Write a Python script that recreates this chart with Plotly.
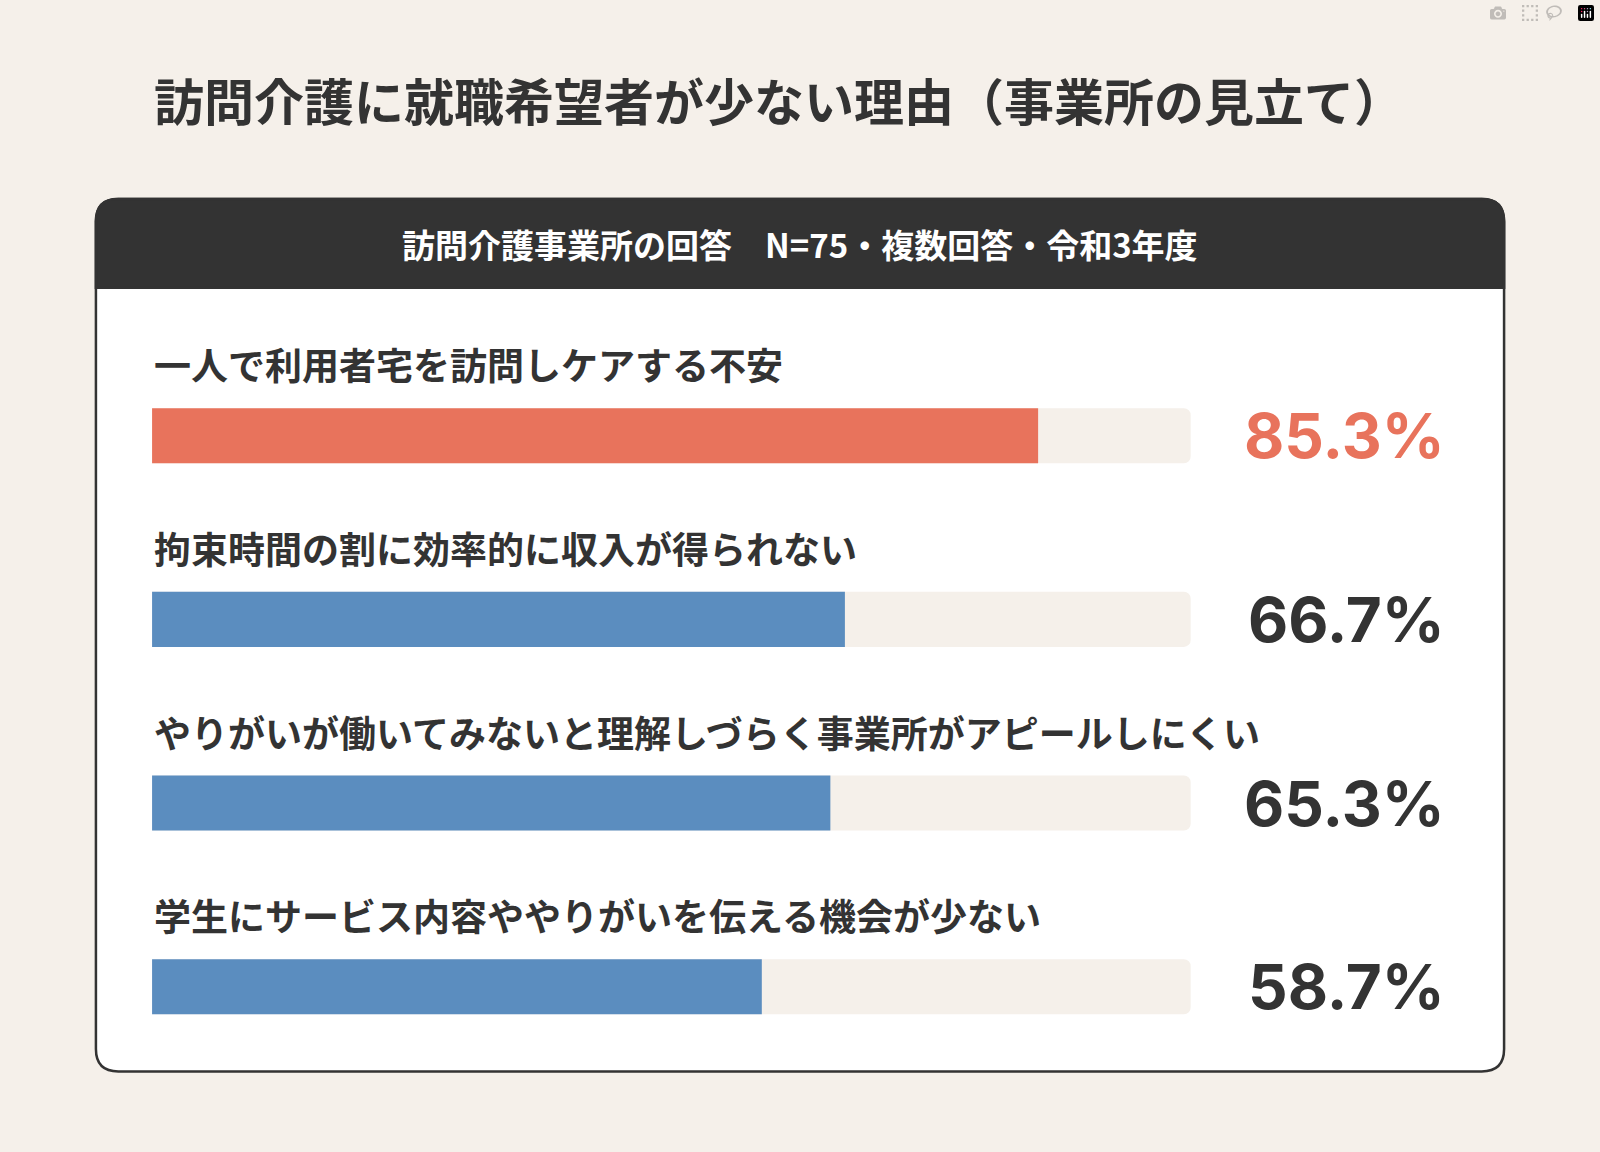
import plotly.graph_objects as go

W, H = 1568.0, 1129.0  # reference pixel grid used for placement

labels = [
    "一人で利用者宅を訪問しケアする不安",
    "拘束時間の割に効率的に収入が得られない",
    "やりがいが働いてみないと理解しづらく事業所がアピールしにくい",
    "学生にサービス内容ややりがいを伝える機会が少ない",
]
values = [85.3, 66.7, 65.3, 58.7]
bar_colors = ["#e8735c", "#5b8dbf", "#5b8dbf", "#5b8dbf"]
value_colors = ["#e8735c", "#333333", "#333333", "#333333"]
title = "訪問介護に就職希望者が少ない理由（事業所の見立て）"
header = "訪問介護事業所の回答　N=75・複数回答・令和3年度"

FONT = "Noto Sans CJK JP"


def px(x):
    return x / W


def py(y):
    return 1 - y / H


def rrect(x0, y0, x1, y1, r, top_only=False):
    rx, ry = r / W, r / H
    X0, X1, Y0, Y1 = px(x0), px(x1), py(y0), py(y1)
    if top_only:
        p = f"M{X0},{Y1} "
    else:
        p = f"M{X0},{Y1 + ry} "
    p += f"L{X0},{Y0 - ry} Q{X0},{Y0} {X0 + rx},{Y0} L{X1 - rx},{Y0} Q{X1},{Y0} {X1},{Y0 - ry} "
    if top_only:
        p += f"L{X1},{Y1} Z"
    else:
        p += f"L{X1},{Y1 + ry} Q{X1},{Y1} {X1 - rx},{Y1} L{X0 + rx},{Y1} Q{X0},{Y1} {X0},{Y1 + ry} Z"
    return p


pos = list(range(len(values)))
fig = go.Figure()
fig.add_trace(go.Bar(x=[100] * len(values), y=pos, orientation="h", width=0.3,
                     marker=dict(color="#f5f0ea", line_width=0), hoverinfo="skip"))
fig.add_trace(go.Bar(x=values, y=pos, orientation="h", width=0.3,
                     marker=dict(color=bar_colors, line_width=0)))

shapes = [
    dict(type="path", xref="paper", yref="paper", path=rrect(94, 195, 1474, 1050, 22),
         fillcolor="white", line=dict(color="#333333", width=2.5), layer="below"),
    dict(type="path", xref="paper", yref="paper", path=rrect(94, 195, 1474, 282, 22, True),
         fillcolor="#333333", line=dict(color="#333333", width=2.5), layer="below"),
]

ann = [
    dict(text=f"<b>{title}</b>", x=px(149), y=py(97), xref="paper", yref="paper",
         xanchor="left", yanchor="middle", showarrow=False,
         font=dict(size=50, color="#333333", family=FONT)),
    dict(text=f"<b>{header}</b>", x=px(784), y=py(239), xref="paper", yref="paper",
         xanchor="center", yanchor="middle", showarrow=False,
         font=dict(size=33, color="white", family=FONT)),
]
for i, (lab, v, c) in enumerate(zip(labels, values, value_colors)):
    cy = 427 + 180 * i
    ann.append(dict(text=f"<b>{lab}</b>", x=px(149), y=py(cy - 70), xref="paper", yref="paper",
                    xanchor="left", yanchor="middle", showarrow=False,
                    font=dict(size=37, color="#333333", family=FONT)))
    ann.append(dict(text=f"<b>{v:.1f}%</b>", x=px(1418), y=py(cy), xref="paper", yref="paper",
                    xanchor="right", yanchor="middle", showarrow=False,
                    font=dict(size=62, color=c, family="Inter", weight=900)))

fig.update_layout(
    width=1600, height=1152, margin=dict(l=0, r=0, t=0, b=0),
    paper_bgcolor="#f5f0ea", plot_bgcolor="rgba(0,0,0,0)",
    barmode="overlay", barcornerradius=7, showlegend=False,
    shapes=shapes, annotations=ann,
    xaxis=dict(domain=[px(149), px(1167)], range=[0, 100], visible=False, fixedrange=True),
    yaxis=dict(domain=[py(1057), py(337)], range=[3.5, -0.5], visible=False, fixedrange=True),
)
fig.write_html("out.html", post_script="document.body.style.margin='0';document.body.style.background='#f5f0ea';")
